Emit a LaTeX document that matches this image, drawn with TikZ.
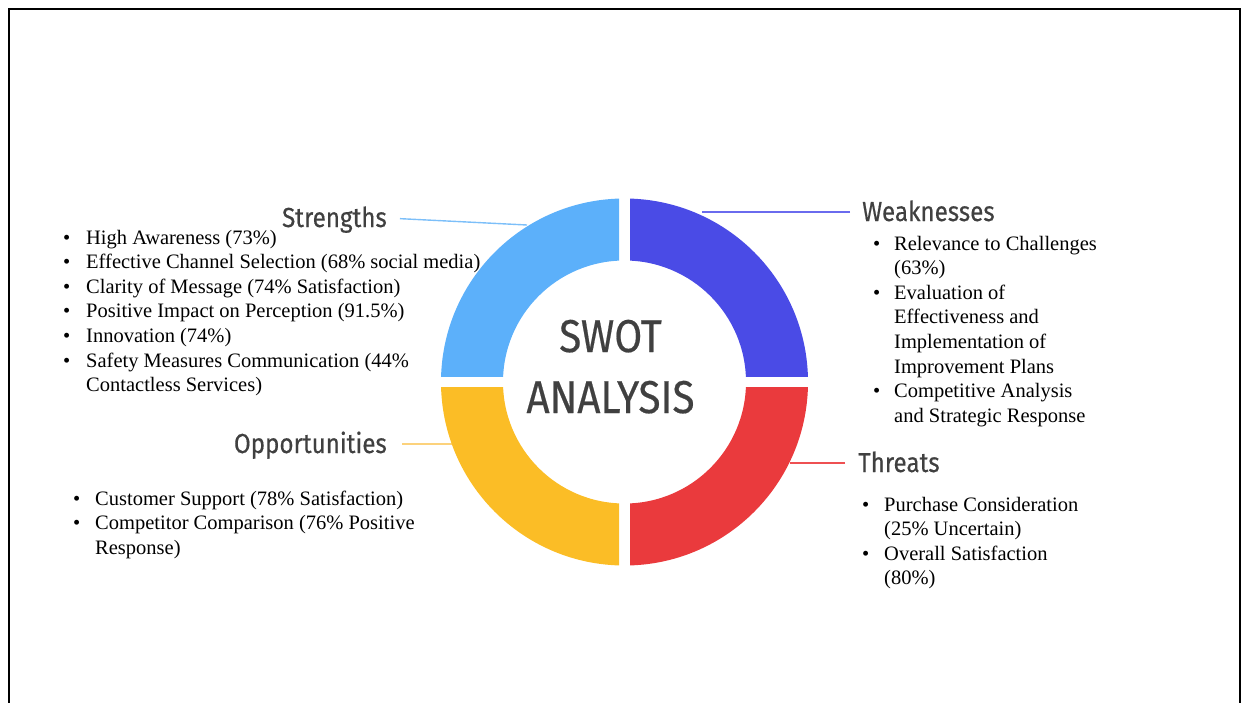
\documentclass[tikz,border=0pt]{standalone}
\usepackage{fontspec}
\setmainfont{Liberation Serif}
\newfontfamily\headfont[FakeStretch=0.88,FakeBold=0.4]{Fira Sans}
\definecolor{headgray}{HTML}{404040}
\definecolor{cS}{HTML}{5CB0FA}
\definecolor{cW}{HTML}{4A4BE6}
\definecolor{cO}{HTML}{FBBD26}
\definecolor{cT}{HTML}{EA3A3D}
\definecolor{cSl}{HTML}{7CBFF9}
\definecolor{cWl}{HTML}{6A6BEE}
\definecolor{cOl}{HTML}{FCD27C}
\definecolor{cTl}{HTML}{EE5052}
\newcommand\bul[1]{\makebox[#1][l]{•}}
\begin{document}
\begin{tikzpicture}[x=1pt,y=-1pt,
  head/.style={inner sep=0pt, text height=18pt, text depth=0pt,
    font=\headfont\fontsize{27.5}{30}\selectfont, text=headgray},
  list/.style={inner sep=0pt, anchor=base west, font=\fontsize{20.5}{24.6}\selectfont},
  conn/.style={line width=1.4pt}]
\useasboundingbox (0,0) rectangle (1247,702);
\draw[line width=2pt] (9,703) -- (9,9) -- (1239.5,9) -- (1239.5,703);

% headings
\node[head, anchor=base east] (sH) at (387,227) {Strengths};
\node[head, anchor=base west] (wH) at (862,221) {Weaknesses};
\node[head, anchor=base east] (oH) at (387,453) {Opportunities};
\node[head, anchor=base west] (tH) at (858,472) {Threats};

% connector ends on the ring
\coordinate (C) at (624.5,382);
\coordinate (sE) at (527,225);
\coordinate (wE) at (702,212);
\coordinate (oE) at (452,444);
\coordinate (tE) at (790,463);
\draw[conn, cSl, shorten <=13pt] (sH.east) -- (sE);
\draw[conn, cWl, shorten <=12pt] (wH.west) -- (wE);
\draw[conn, cOl, shorten <=15pt] (oH.east) -- (oE);
\draw[conn, cTl, shorten <=13pt] (tH.west) -- (tE);

% ring
\begin{scope}\clip (619,376.5) rectangle (400,150);
\fill[cS, even odd rule] (C) circle[radius=183.5] (C) circle[radius=121.5];
\end{scope}
\begin{scope}\clip (630,376.5) rectangle (850,150);
\fill[cW, even odd rule] (C) circle[radius=183.5] (C) circle[radius=121.5];
\end{scope}
\begin{scope}\clip (619,387) rectangle (400,600);
\fill[cO, even odd rule] (C) circle[radius=183.5] (C) circle[radius=121.5];
\end{scope}
\begin{scope}\clip (630,387) rectangle (850,600);
\fill[cT, even odd rule] (C) circle[radius=183.5] (C) circle[radius=121.5];
\end{scope}

\node[anchor=base, inner sep=0pt, text=headgray, font=\headfont\fontsize{46}{61}\selectfont]
  (swot) at (610.5,352) {\begin{tabular}[t]{@{}c@{}}SWOT\\ANALYSIS\end{tabular}};

% lists
\node[list] (sL) at (63,244) {\begin{tabular}[t]{@{}l@{}l@{}}
\bul{23pt}&High Awareness (73\%)\\
\bul{23pt}&Effective Channel Selection (68\% social media)\\
\bul{23pt}&Clarity of Message (74\% Satisfaction)\\
\bul{23pt}&Positive Impact on Perception (91.5\%)\\
\bul{23pt}&Innovation (74\%)\\
\bul{23pt}&Safety Measures Communication (44\%\\
&Contactless Services)
\end{tabular}};

\node[list] (wL) at (873,250) {\begin{tabular}[t]{@{}l@{}l@{}}
\bul{21pt}&Relevance to Challenges\\
&(63\%)\\
\bul{21pt}&Evaluation of\\
&Effectiveness and\\
&Implementation of\\
&Improvement Plans\\
\bul{21pt}&Competitive Analysis\\
&and Strategic Response
\end{tabular}};

\node[list] (oL) at (73,505) {\begin{tabular}[t]{@{}l@{}l@{}}
\bul{22pt}&Customer Support (78\% Satisfaction)\\
\bul{22pt}&Competitor Comparison (76\% Positive\\
&Response)
\end{tabular}};

\node[list] (tL) at (862,511) {\begin{tabular}[t]{@{}l@{}l@{}}
\bul{22pt}&Purchase Consideration\\
&(25\% Uncertain)\\
\bul{22pt}&Overall Satisfaction\\
&(80\%)
\end{tabular}};
\end{tikzpicture}
\end{document}
